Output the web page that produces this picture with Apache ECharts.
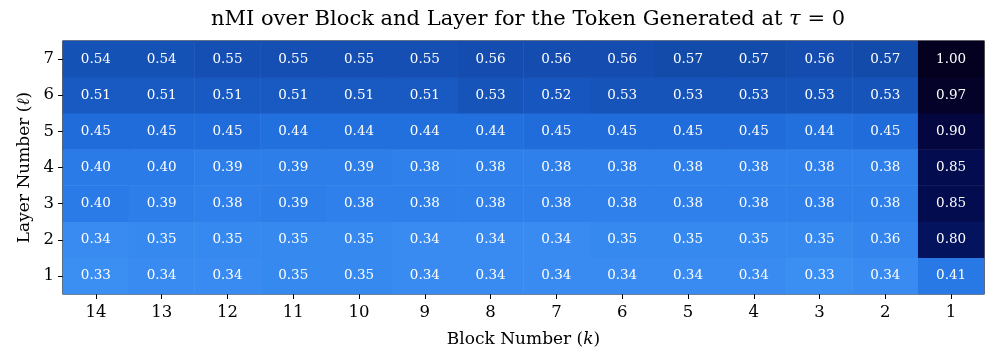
<!DOCTYPE html>
<html><head><meta charset="utf-8">
<script src="https://cdn.jsdelivr.net/npm/echarts@6/dist/echarts.min.js"></script>
<style>html,body{margin:0;padding:0;background:#fff}#c{width:997px;height:361px}</style>
</head><body><div id="c"></div>
<script>
const blocks = ['14','13','12','11','10','9','8','7','6','5','4','3','2','1'];
const layers = ['1','2','3','4','5','6','7'];
const layer1 = [0.33,0.34,0.34,0.35,0.35,0.34,0.34,0.34,0.34,0.34,0.34,0.33,0.34,0.41];
const layer2 = [0.34,0.35,0.35,0.35,0.35,0.34,0.34,0.34,0.35,0.35,0.35,0.35,0.36,0.80];
const layer3 = [0.40,0.39,0.38,0.39,0.38,0.38,0.38,0.38,0.38,0.38,0.38,0.38,0.38,0.85];
const layer4 = [0.40,0.40,0.39,0.39,0.39,0.38,0.38,0.38,0.38,0.38,0.38,0.38,0.38,0.85];
const layer5 = [0.45,0.45,0.45,0.44,0.44,0.44,0.44,0.45,0.45,0.45,0.45,0.44,0.45,0.90];
const layer6 = [0.51,0.51,0.51,0.51,0.51,0.51,0.53,0.52,0.53,0.53,0.53,0.53,0.53,0.97];
const layer7 = [0.54,0.54,0.55,0.55,0.55,0.55,0.56,0.56,0.56,0.57,0.57,0.56,0.57,1.00];
const rows = [layer1,layer2,layer3,layer4,layer5,layer6,layer7];
const data = [];
rows.forEach((r,yi)=>r.forEach((v,xi)=>data.push([xi,yi,v])));
const F = 'DejaVu Serif';
const chart = echarts.init(document.getElementById('c'));
chart.setOption({
  animation:false,
  title:{text:'nMI over Block and Layer for the Token Generated at {i|τ} = 0',left:523,top:4,textAlign:'center',
    textStyle:{fontFamily:F,fontSize:21,fontWeight:'normal',color:'#000',rich:{i:{fontFamily:F,fontSize:21,fontStyle:'italic'}}}},
  grid:{left:63,right:13,top:41,bottom:67,show:true,borderColor:'#000',borderWidth:1.2,backgroundColor:'transparent'},
  xAxis:{type:'category',data:blocks,name:'Block Number ({i|k})',nameLocation:'middle',nameGap:37,
    nameTextStyle:{fontFamily:F,fontSize:17,color:'#000',rich:{i:{fontFamily:F,fontSize:17,fontStyle:'italic'}}},
    axisLine:{show:false},axisTick:{show:true,alignWithLabel:true,length:5,lineStyle:{color:'#000'}},
    axisLabel:{fontFamily:F,fontSize:16.5,color:'#000',margin:10},splitLine:{show:false}},
  yAxis:{type:'category',data:layers,name:'Layer Number ({i|ℓ})',nameLocation:'middle',nameGap:30,
    nameTextStyle:{fontFamily:F,fontSize:17,color:'#000',rich:{i:{fontFamily:F,fontSize:17,fontStyle:'italic'}}},
    axisLine:{show:false},axisTick:{show:true,alignWithLabel:true,length:5,lineStyle:{color:'#000'}},
    axisLabel:{fontFamily:F,fontSize:16.5,color:'#000',margin:9},splitLine:{show:false}},
  visualMap:{show:false,min:0.33,max:1.0,calculable:false,
    inRange:{color:['#3b8ef2','#2474e4','#1656bd','#11409a','#0a2a7a','#03115a','#04063e','#040020']}},
  series:[{type:'heatmap',data:data,
    label:{show:true,color:'#fff',fontFamily:F,fontSize:13.5,formatter:p=>p.value[2].toFixed(2)},
    itemStyle:{borderWidth:0},emphasis:{disabled:true}}]
});
</script></body></html>
